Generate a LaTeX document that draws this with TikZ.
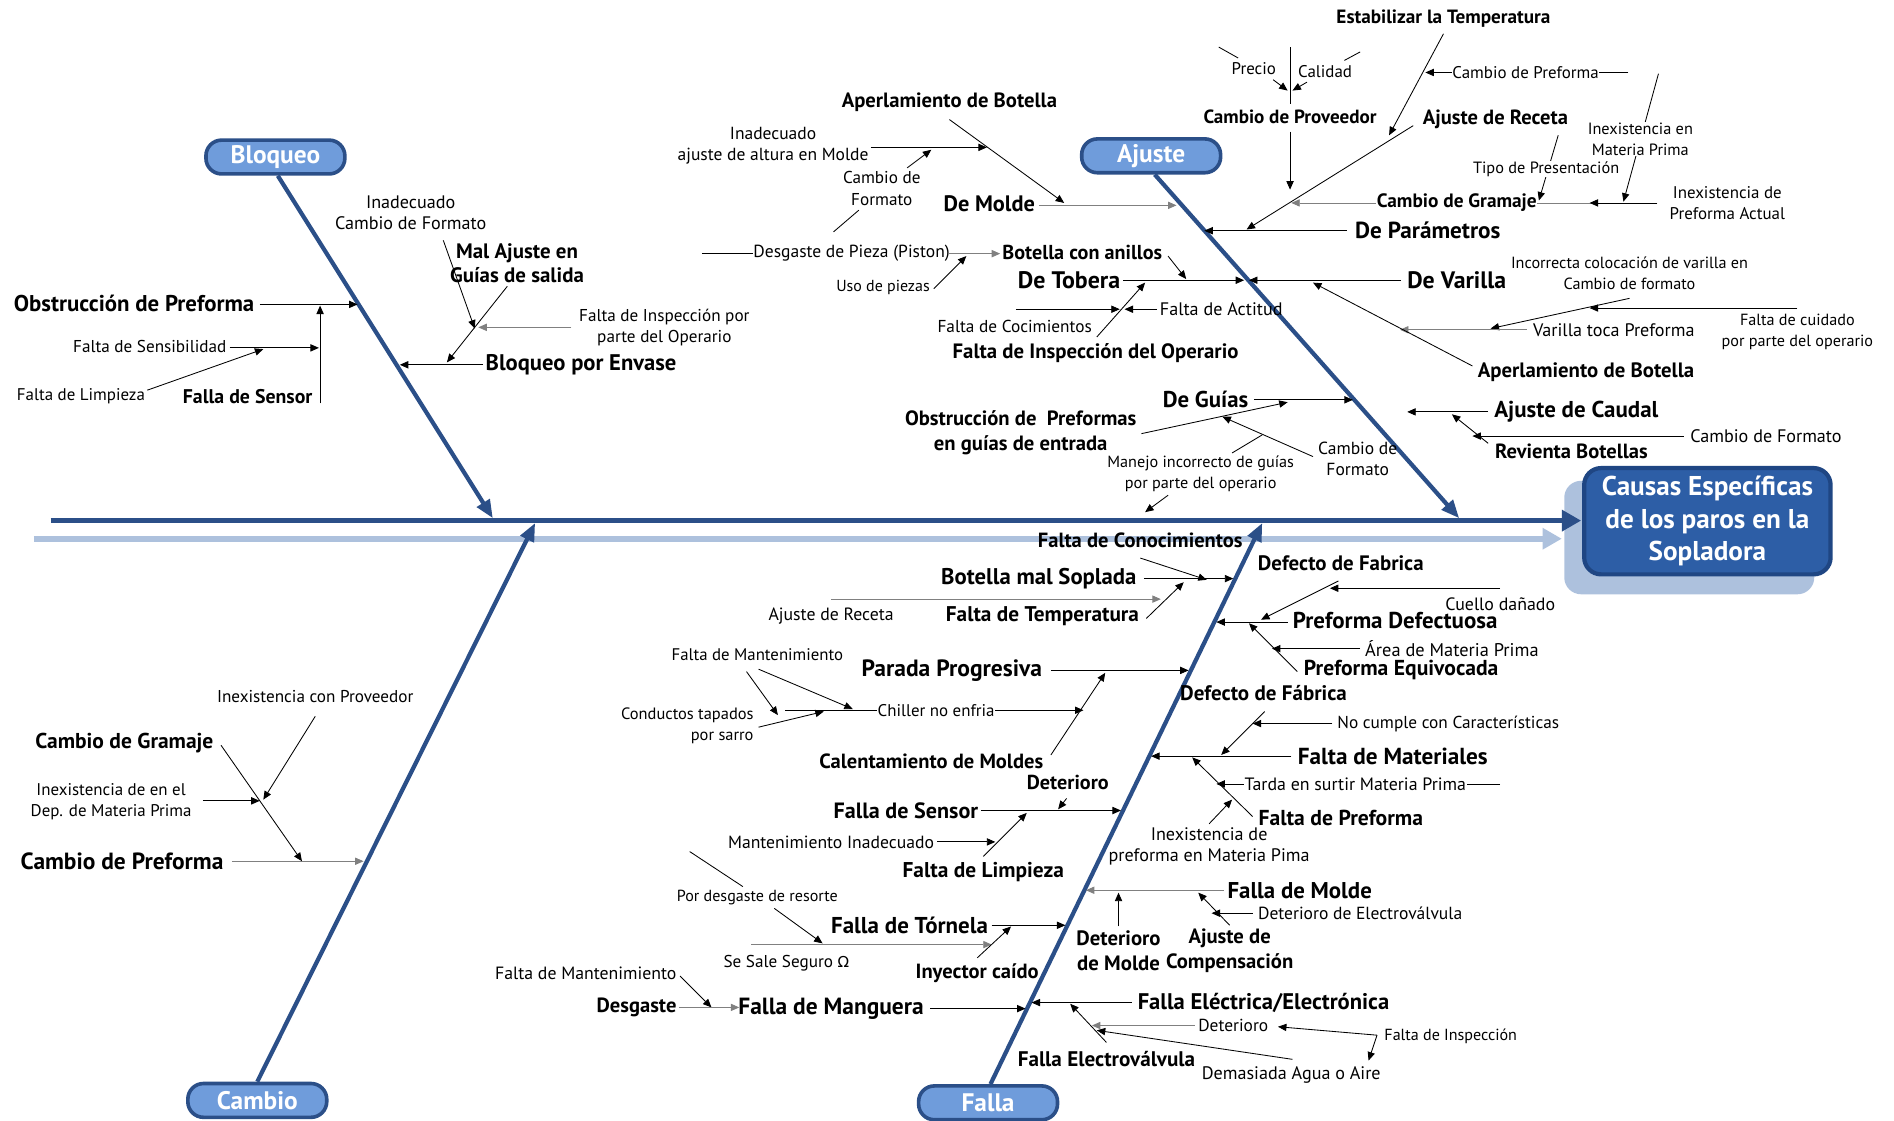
\documentclass[tikz,border=0pt]{standalone}
\usepackage{fontspec}
\setmainfont{PT Sans}
\newfontfamily\symb{DejaVu Sans}
\usetikzlibrary{arrows.meta}
\definecolor{bone}{HTML}{2B4F88}
\definecolor{catfill}{HTML}{6F9CDB}
\definecolor{headfill}{HTML}{2D5EA6}
\definecolor{headedge}{HTML}{1F4683}
\definecolor{pale}{HTML}{ADC1DD}
\begin{document}
\begin{tikzpicture}[x=1pt,y=-1pt,
  rt/.style={font=\fontsize{#1}{17.5}\selectfont,inner sep=0.5pt,align=center},
  bt/.style={font=\bfseries\fontsize{#1}{20.5}\selectfont,inner sep=0.5pt,align=center},
  arr/.style={-{Triangle[length=7pt,width=6pt]},line width=0.7pt},
  ln/.style={line width=0.7pt},
  cat/.style={rounded corners=13pt,draw=bone,line width=3pt,fill=catfill,text=white,
    font=\bfseries\fontsize{21}{22}\selectfont,minimum width=115pt,minimum height=28pt,inner sep=0pt},
  bonearrow/.style={draw=bone,line width=3.5pt,-{Triangle[length=15pt,width=12pt]}},
]
\useasboundingbox (0,0) rectangle (1568,928);

% ---------- spine and head ----------
\fill[pale,rounded corners=14pt] (1295,398) rectangle (1502,492);
\draw[pale,line width=5pt,-{Triangle[length=16pt,width=17pt]}] (28,446) -- (1293,446);
\draw[bone,line width=4.5pt,-{Triangle[length=16pt,width=17pt]}] (42,431) -- (1309,431);
\node[draw=headedge,line width=3.5pt,fill=headfill,rounded corners=14pt,
  minimum width=204pt,minimum height=88pt,text=white,align=center,inner sep=0pt,
  font=\bfseries\fontsize{22.5}{27}\selectfont] (head) at (1413.5,431.5)
  {Causas Específicas\\de los paros en la\\Sopladora};

% ---------- category boxes and bones ----------
\node[cat] (bloq) at (228,130) {Bloqueo};
\node[cat] (ajus) at (953,129) {Ajuste};
\node[cat] (camb) at (213,911) {Cambio};
\node[cat] (fall) at (818,913) {Falla};
\coordinate (bloqT) at (408,429);
\coordinate (ajusT) at (1208,429);
\coordinate (cambT) at (443,433);
\coordinate (fallT) at (1045,433);
\draw[bonearrow] (bloq.south) ++(2,0) coordinate (bloqS) -- (bloqT);
\draw[bonearrow] (ajus.south) ++(3,0) coordinate (ajusS) -- (ajusT);
\draw[bonearrow] (camb.north) -- (cambT);
\draw[bonearrow] (fall.north) ++(2,0) coordinate (fallS) -- (fallT);

% ---------- Bloqueo ----------
\node[bt=18.9] (b1) at (111,251) {Obstrucción de Preforma};
\node[bt=16.4] (b2) at (205,328) {Falla de Sensor};
\node[rt=14.2] (b3) at (124,287) {Falta de Sensibilidad};
\node[rt=14] (b4) at (67,328) {Falta de Limpieza};
\node[rt=15] (b5) at (340,176) {Inadecuado\\Cambio de Formato};
\node[bt=17.3] (b6) at (428,218) {Mal Ajuste en\\Guías de salida};
\node[rt=14.2] (b7) at (550,271) {Falta de Inspección por\\parte del Operario};
\node[bt=18.7] (b8) at (481,302) {Bloqueo por Envase};
\coordinate (b1s) at (215,252); \coordinate (b1e) at (296,252);
\coordinate (b2s) at (265,334); \coordinate (b2e) at (265,253);
\coordinate (b3s) at (190,288); \coordinate (b3e) at (264,288);
\coordinate (b4s) at (122,323); \coordinate (b4e) at (218,289);
\coordinate (b5s) at (367,199); \coordinate (b5e) at (393,272);
\coordinate (b6s) at (420,237); \coordinate (b6e) at (370,300);
\coordinate (b7s) at (473,271); \coordinate (b7e) at (396,271);
\coordinate (b8s) at (400,302); \coordinate (b8e) at (331,302);
\draw[arr] (b1s) -- (b1e);
\draw[arr] (b2s) -- (b2e);
\draw[arr] (b3s) -- (b3e);
\draw[arr] (b4s) -- (b4e);
\draw[arr] (b5s) -- (b5e);
\draw[arr] (b6s) -- (b6e);
\draw[arr,gray] (b7s) -- (b7e);
\draw[arr] (b8s) -- (b8e);

% ---------- Ajuste, left side ----------
\node[bt=17.1] (a1) at (786,85) {Aperlamiento de Botella};
\node[rt=14.5] (a2) at (640,121) {Inadecuado\\ajuste de altura en Molde};
\node[rt=14.2] (a3) at (730,156) {Cambio de\\Formato};
\node[bt=18.5] (a4) at (819,169) {De Molde};
\node[rt=14.5] (a5) at (705,210) {Desgaste de Pieza (Piston)};
\node[rt=13.2] (a6) at (731,238) {Uso de piezas};
\node[bt=16.7] (a7) at (896,209) {Botella con anillos};
\node[bt=19.8] (a8) at (885,232) {De Tobera};
\node[rt=15] (a9) at (1011,256) {Falta de Actitud};
\node[rt=14.3] (a10) at (840,270) {Falta de Cocimientos};
\node[bt=17.2] (a11) at (907,292) {Falta de Inspección del Operario};
\coordinate (a1s) at (786,99);   \coordinate (a1e) at (881,168);
\coordinate (a2s) at (721,122);  \coordinate (a2e) at (817,122);
\coordinate (a3s) at (751,139);  \coordinate (a3e) at (771,124);
\coordinate (a3u) at (711,174);  \coordinate (a3v) at (690,192);
\coordinate (a4s) at (860,170);  \coordinate (a4e) at (974,170);
\coordinate (a5u) at (581,210);  \coordinate (a5v) at (623,210);
\coordinate (a5s) at (786,210);  \coordinate (a5e) at (828,210);
\coordinate (a6s) at (773,239);  \coordinate (a6e) at (800,212);
\coordinate (a7s) at (967,212);  \coordinate (a7e) at (982,231);
\coordinate (a8s) at (930,232);  \coordinate (a8e) at (1030,232);
\coordinate (a9s) at (958,256);  \coordinate (a9e) at (931,256);
\coordinate (a10s) at (841,256); \coordinate (a10e) at (927,256);
\coordinate (a11s) at (908,279); \coordinate (a11e) at (948,234);
\draw[arr] (a1s) -- (a1e);
\draw[arr] (a2s) -- (a2e);
\draw[arr] (a3s) -- (a3e);
\draw[ln] (a3u) -- (a3v);
\draw[arr,gray] (a4s) -- (a4e);
\draw[ln] (a5u) -- (a5v);
\draw[arr,gray] (a5s) -- (a5e);
\draw[arr] (a6s) -- (a6e);
\draw[arr] (a7s) -- (a7e);
\draw[arr] (a8s) -- (a8e);
\draw[arr] (a9s) -- (a9e);
\draw[arr] (a10s) -- (a10e);
\draw[arr] (a11s) -- (a11e);

% ---------- Ajuste, right side ----------
\coordinate (a12s) at (1195,28);  \coordinate (a12e) at (1150,112);
\coordinate (a13s) at (1348,60);  \coordinate (a13e) at (1180,60);
\coordinate (a14a) at (1068,39);  \coordinate (a14b) at (1068,86);
\coordinate (a14s) at (1068,109); \coordinate (a14e) at (1068,157);
\coordinate (a15a) at (1009,39);  \coordinate (a15b) at (1025,48);
\coordinate (a15s) at (1054,66);  \coordinate (a15e) at (1066,75);
\coordinate (a16a) at (1113,50);  \coordinate (a16b) at (1126,43);
\coordinate (a16s) at (1082,68);  \coordinate (a16e) at (1070,75);
\coordinate (a17s) at (1170,104); \coordinate (a17e) at (1032,190);
\coordinate (a18s) at (1140,168); \coordinate (a18e) at (1069,168);
\coordinate (a18u) at (1272,168); \coordinate (a18v) at (1372,168);
\coordinate (a18w) at (1316,168);
\coordinate (a20s) at (1290,112); \coordinate (a20e) at (1274,166);
\coordinate (a21s) at (1373,61);  \coordinate (a21e) at (1344,167);
\coordinate (a22s) at (1115,191); \coordinate (a22e) at (997,191);
\coordinate (a23s) at (1160,232); \coordinate (a23e) at (1034,232);
\coordinate (a24s) at (1349,247); \coordinate (a24e) at (1234,272);
\coordinate (a25s) at (1488,255); \coordinate (a25e) at (1316,255);
\coordinate (a26s) at (1264,273); \coordinate (a26e) at (1159,273);
\coordinate (a27s) at (1219,303); \coordinate (a27e) at (1087,234);
\draw[arr] (a12s) -- (a12e);
\draw[arr] (a13s) -- (a13e);
\draw[ln] (a14a) -- (a14b);
\draw[arr] (a14s) -- (a14e);
\draw[ln] (a15a) -- (a15b);
\draw[arr] (a15s) -- (a15e);
\draw[ln] (a16a) -- (a16b);
\draw[arr] (a16s) -- (a16e);
\draw[arr] (a17s) -- (a17e);
\draw[arr,gray] (a18s) -- (a18e);
\draw[ln,gray] (a18u) -- (a18v);
\draw[arr] (a18v) -- (a18w);
\draw[arr] (a20s) -- (a20e);
\draw[arr] (a21s) -- (a21e);
\draw[arr] (a22s) -- (a22e);
\draw[arr] (a23s) -- (a23e);
\draw[arr] (a24s) -- (a24e);
\draw[arr] (a25s) -- (a25e);
\draw[arr,gray] (a26s) -- (a26e);
\draw[arr] (a27s) -- (a27e);
\node[bt=15.9] (a12) at (1195,15) {Estabilizar la Temperatura};
\node[rt=14,fill=white] (a13) at (1263,60) {Cambio de Preforma};
\node[bt=15.8] (a14) at (1068,97) {Cambio de Proveedor};
\node[rt=14] (a15) at (1038,57) {Precio};
\node[rt=14] (a16) at (1097,59) {Calidad};
\node[bt=17] (a17) at (1238,99) {Ajuste de Receta};
\node[bt=16,fill=white] (a18) at (1206,168) {Cambio de Gramaje};
\node[rt=14] (a19) at (1430,168) {Inexistencia de\\Preforma Actual};
\node[rt=13.5,fill=white] (a20) at (1280,140) {Tipo de Presentación};
\node[rt=13.5,fill=white] (a21) at (1358,115) {Inexistencia en\\Materia Prima};
\node[bt=19.2] (a22) at (1182,191) {De Parámetros};
\node[bt=19.7] (a23) at (1206,232) {De Varilla};
\node[rt=13.4] (a24) at (1349,226) {Incorrecta colocación de varilla en\\Cambio de formato};
\node[rt=13.4] (a25) at (1488,275) {Falta de cuidado\\por parte del operario};
\node[rt=15] (a26) at (1336,273) {Varilla toca Preforma};
\node[bt=17.2] (a27) at (1313,308) {Aperlamiento de Botella};

% ---------- Ajuste, lower part ----------
\node[bt=18.9] (a28) at (998,331) {De Guías};
\node[bt=17.1] (a29) at (845,358) {Obstrucción de\ \ Preformas\\en guías de entrada};
\node[rt=13.4] (a30) at (994,392) {Manejo incorrecto de guías\\por parte del operario};
\node[rt=14.5] (a31) at (1124,380) {Cambio de\\Formato};
\node[bt=19] (a32) at (1305,341) {Ajuste de Caudal};
\node[bt=17] (a33) at (1301,374) {Revienta Botellas};
\node[rt=15] (a34) at (1462,361) {Cambio de Formato};
\coordinate (a28s) at (1038,331); \coordinate (a28e) at (1120,331);
\coordinate (a29s) at (945,359);  \coordinate (a29e) at (1066,333);
\coordinate (a30s) at (1020,375); \coordinate (a30e) at (1045,360);
\coordinate (a31s) at (1087,378); \coordinate (a31e) at (1012,345);
\coordinate (a30u) at (967,410);  \coordinate (a30v) at (948,424);
\coordinate (a32s) at (1232,341); \coordinate (a32e) at (1165,341);
\coordinate (a33s) at (1232,367); \coordinate (a33e) at (1202,343);
\coordinate (a34s) at (1394,361); \coordinate (a34e) at (1219,361);
\draw[arr] (a28s) -- (a28e);
\draw[arr] (a29s) -- (a29e);
\draw[ln] (a30s) -- (a30e);
\draw[arr] (a31s) -- (a31e);
\draw[arr] (a30u) -- (a30v);
\draw[arr] (a32s) -- (a32e);
\draw[arr] (a33s) -- (a33e);
\draw[arr] (a34s) -- (a34e);

% ---------- Cambio ----------
\node[bt=19.4] (c1) at (101,713) {Cambio de Preforma};
\node[bt=17.8] (c2) at (103,615) {Cambio de Gramaje};
\node[rt=14] (c3) at (92,664) {Inexistencia de en el\\Dep. de Materia Prima};
\node[rt=14.2] (c4) at (261,577) {Inexistencia con Proveedor};
\coordinate (c1s) at (192,713); \coordinate (c1e) at (301,713);
\coordinate (c2s) at (183,617); \coordinate (c2e) at (250,713);
\coordinate (c3s) at (168,663); \coordinate (c3e) at (215,663);
\coordinate (c4s) at (261,593); \coordinate (c4e) at (218,662);
\draw[arr,gray] (c1s) -- (c1e);
\draw[arr] (c2s) -- (c2e);
\draw[arr] (c3s) -- (c3e);
\draw[arr] (c4s) -- (c4e);

% ---------- Falla, left side ----------
\node[bt=17] (f1) at (944,447) {Falta de Conocimientos};
\node[bt=18.8] (f2) at (860,479) {Botella mal Soplada};
\node[bt=17.6] (f3) at (863,510) {Falta de Temperatura};
\node[rt=14.7] (f4) at (688,510) {Ajuste de Receta};
\node[bt=19.5] (f5) at (788,555) {Parada Progresiva};
\node[bt=17] (f6) at (771,630) {Calentamiento de Moldes};
\node[rt=13.9] (f8) at (627,542) {Falta de Mantenimiento};
\node[rt=13.6,align=right] (f9) at (569,601) {Conductos tapados\\por sarro};
\node[bt=16.7] (f10) at (884,648) {Deterioro};
\node[bt=18.3] (f11) at (750,671) {Falla de Sensor};
\node[rt=14.6] (f12) at (688,697) {Mantenimiento Inadecuado};
\node[bt=17.7] (f13) at (814,722) {Falta de Limpieza};
\node[rt=13.3] (f14) at (627,743) {Por desgaste de resorte};
\node[rt=14.2] (f15) at (651,797) {Se Sale Seguro {\symb\fontsize{12.5}{13}\selectfont Ω}};
\node[bt=19] (f16) at (753,766) {Falla de Tórnela};
\node[bt=17] (f17) at (809,806) {Inyector caído};
\node[rt=14.7] (f18) at (485,806) {Falta de Mantenimiento};
\node[bt=17] (f19) at (527,834) {Desgaste};
\node[bt=19.4] (f20) at (688,835) {Falla de Manguera};
\coordinate (f1s) at (944,462);  \coordinate (f1e) at (999,480);
\coordinate (f2s) at (947,479);  \coordinate (f2e) at (1021,479);
\coordinate (f3s) at (949,512);  \coordinate (f3e) at (980,482);
\coordinate (f4s) at (688,496);  \coordinate (f4e) at (961,496);
\coordinate (f5s) at (870,555);  \coordinate (f5e) at (984,555);
\coordinate (f6s) at (870,625);  \coordinate (f6e) at (915,557);
\coordinate (f7s) at (650,588);  \coordinate (f7e) at (897,588);
\coordinate (f8s) at (618,556);  \coordinate (f8e) at (644,592);
\coordinate (f8t) at (628,554);  \coordinate (f8f) at (706,587);
\coordinate (f9s) at (628,602);  \coordinate (f9e) at (682,589);
\coordinate (f10s) at (883,661); \coordinate (f10e) at (876,670);
\coordinate (f11s) at (812,671); \coordinate (f11e) at (928,671);
\coordinate (f12s) at (776,697); \coordinate (f12e) at (824,697);
\coordinate (f13s) at (814,709); \coordinate (f13e) at (850,673);
\coordinate (f14u) at (571,705); \coordinate (f14v) at (615,734);
\coordinate (f14s) at (641,752); \coordinate (f14e) at (681,781);
\coordinate (f15s) at (622,782); \coordinate (f15e) at (821,782);
\coordinate (f16s) at (821,766); \coordinate (f16e) at (882,766);
\coordinate (f17s) at (809,793); \coordinate (f17e) at (837,767);
\coordinate (f18s) at (563,808); \coordinate (f18e) at (589,834);
\coordinate (f19s) at (562,834); \coordinate (f19e) at (612,834);
\coordinate (f20s) at (770,835); \coordinate (f20e) at (849,835);
\draw[arr] (f1s) -- (f1e);
\draw[arr] (f2s) -- (f2e);
\draw[arr] (f3s) -- (f3e);
\draw[arr,gray] (f4s) -- (f4e);
\draw[arr] (f5s) -- (f5e);
\draw[arr] (f6s) -- (f6e);
\draw[arr] (f7s) -- (f7e);
\draw[arr] (f8s) -- (f8e);
\draw[arr] (f8t) -- (f8f);
\draw[arr] (f9s) -- (f9e);
\draw[arr] (f10s) -- (f10e);
\draw[arr] (f11s) -- (f11e);
\draw[arr] (f12s) -- (f12e);
\draw[arr] (f13s) -- (f13e);
\draw[ln] (f14u) -- (f14v);
\draw[arr] (f14s) -- (f14e);
\draw[arr,gray] (f15s) -- (f15e);
\draw[arr] (f16s) -- (f16e);
\draw[arr] (f17s) -- (f17e);
\draw[arr] (f18s) -- (f18e);
\draw[arr,gray] (f19s) -- (f19e);
\draw[arr] (f20s) -- (f20e);
\node[rt=14,fill=white] (f7) at (775,588) {Chiller no enfria};

% ---------- Falla, right side ----------
\node[bt=17.3] (f21) at (1110,466) {Defecto de Fabrica};
\node[rt=14.8] (f22) at (1242,500) {Cuello dañado};
\node[bt=19] (f23) at (1155,514) {Preforma Defectuosa};
\node[rt=15.2] (f24) at (1202,537) {Área de Materia Prima};
\node[bt=17.9] (f25) at (1160,555) {Preforma Equivocada};
\node[bt=17.4] (f26) at (1046,574) {Defecto de Fábrica};
\node[rt=14.3] (f27) at (1199,599) {No cumple con Características};
\node[bt=19.2] (f28) at (1153,626) {Falta de Materiales};
\node[bt=17.9] (f30) at (1110,677) {Falta de Preforma};
\node[rt=15] (f31) at (1001,701) {Inexistencia de\\preforma en Materia Pima};
\node[bt=18.9] (f32) at (1076,737) {Falla de Molde};
\node[bt=17.2] (f33) at (926,787) {Deterioro\\de Molde};
\node[bt=17.1] (f34) at (1018,787) {Ajuste de\\Compensación};
\node[rt=14.5] (f35) at (1126,756) {Deterioro de Electroválvula};
\node[bt=18.7] (f36) at (1046,830) {Falla Eléctrica/Electrónica};
\node[bt=17.5] (f37) at (916,877) {Falla Electroválvula};
\node[rt=14.4] (f38) at (1021,849) {Deterioro};
\node[rt=15] (f39) at (1069,890) {Demasiada Agua o Aire};
\node[rt=13.3] (f40) at (1201,858) {Falta de Inspección};
\coordinate (f22s) at (1242,487); \coordinate (f22e) at (1101,487);
\coordinate (f21s) at (1108,481); \coordinate (f21e) at (1044,513);
\coordinate (f23s) at (1066,515); \coordinate (f23e) at (1007,515);
\coordinate (f24s) at (1126,537); \coordinate (f24e) at (1053,537);
\coordinate (f25s) at (1074,556); \coordinate (f25e) at (1034,516);
\coordinate (f26s) at (1047,589); \coordinate (f26e) at (1011,625);
\coordinate (f27s) at (1103,599); \coordinate (f27e) at (1037,599);
\coordinate (f28s) at (1069,626); \coordinate (f28e) at (953,626);
\coordinate (f29s) at (1242,649); \coordinate (f29e) at (1007,649);
\coordinate (f30s) at (1037,676); \coordinate (f30e) at (987,627);
\coordinate (f31s) at (1001,682); \coordinate (f31e) at (1020,662);
\coordinate (f32s) at (1013,737); \coordinate (f32e) at (899,737);
\coordinate (f33s) at (926,767);  \coordinate (f33e) at (926,739);
\coordinate (f34s) at (1018,766); \coordinate (f34e) at (992,739);
\coordinate (f35s) at (1037,756); \coordinate (f35e) at (1003,756);
\coordinate (f36s) at (937,830);  \coordinate (f36e) at (854,830);
\coordinate (f37s) at (916,863);  \coordinate (f37e) at (886,831);
\coordinate (f38s) at (989,849);  \coordinate (f38e) at (904,849);
\coordinate (f39s) at (1070,877); \coordinate (f39e) at (908,853);
\coordinate (f40s) at (1140,857); \coordinate (f40e) at (1058,850);
\coordinate (f40f) at (1133,878);
\draw[arr] (f22s) -- (f22e);
\draw[arr] (f21s) -- (f21e);
\draw[arr] (f23s) -- (f23e);
\draw[arr] (f24s) -- (f24e);
\draw[arr] (f25s) -- (f25e);
\draw[arr] (f26s) -- (f26e);
\draw[arr] (f27s) -- (f27e);
\draw[arr] (f28s) -- (f28e);
\draw[arr] (f29s) -- (f29e);
\draw[arr] (f30s) -- (f30e);
\draw[arr] (f31s) -- (f31e);
\draw[arr,gray] (f32s) -- (f32e);
\draw[arr] (f33s) -- (f33e);
\draw[arr] (f34s) -- (f34e);
\draw[arr] (f35s) -- (f35e);
\draw[arr] (f36s) -- (f36e);
\draw[arr] (f37s) -- (f37e);
\draw[arr,gray] (f38s) -- (f38e);
\draw[arr] (f39s) -- (f39e);
\draw[arr] (f40s) -- (f40e);
\draw[arr] (f40s) -- (f40f);
\node[rt=14.8,fill=white] (f29) at (1122,649) {Tarda en surtir Materia Prima};
\end{tikzpicture}
\end{document}
